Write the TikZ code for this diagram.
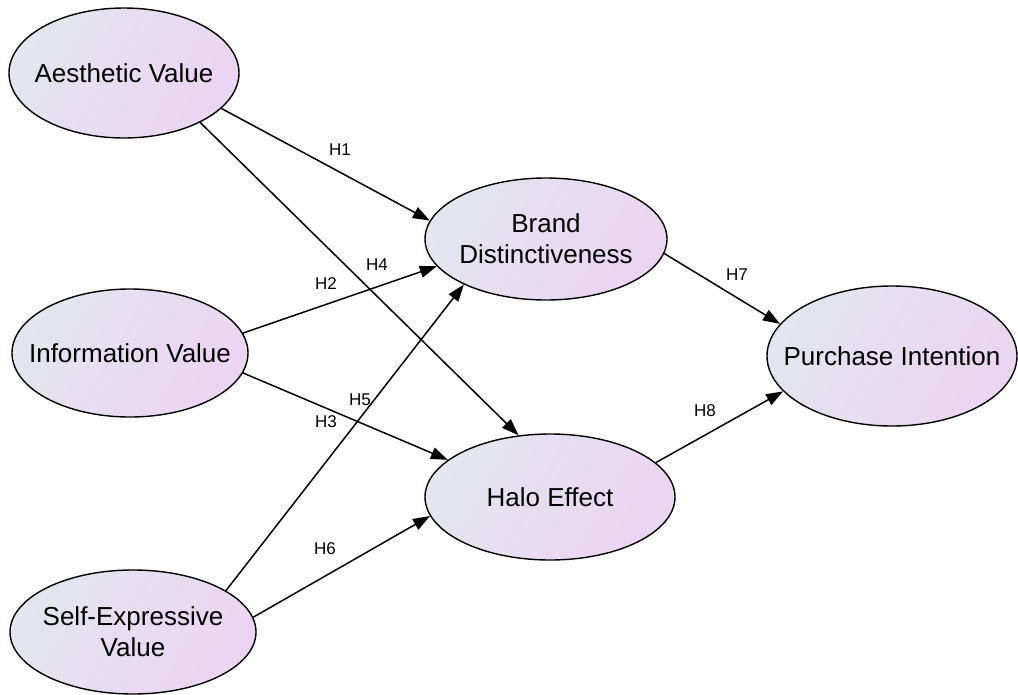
\documentclass[tikz,border=0pt]{standalone}
\usepackage{fontspec}
\setmainfont{Liberation Sans}
\usetikzlibrary{shapes.geometric,arrows.meta}
\definecolor{gleft}{HTML}{E2E6EE}
\definecolor{gright}{HTML}{ECD4F3}
\tikzset{
  construct/.style={ellipse, draw=black, line width=1.4pt, left color=gleft, right color=gright,
    shading angle=60, inner sep=0pt},
  ctext/.style={align=center, font=\fontsize{26}{31}\selectfont, text=black, inner sep=0pt},
  hlabel/.style={font=\fontsize{17}{20}\selectfont, text=black, inner sep=0pt},
  path/.style={line width=1.5pt, draw=black, -{Triangle[length=17pt,width=12pt]}}
}
\begin{document}
\begin{tikzpicture}[x=1pt,y=-1pt]
\useasboundingbox[fill=white] (0,0) rectangle (1018,694);
\node[construct, minimum width=230pt, minimum height=130pt,
  label={[ctext]center:Aesthetic Value}] (aes) at (124,73) {};
\node[construct, minimum width=236pt, minimum height=128pt,
  label={[ctext]center:Information Value}] (info) at (130,353) {};
\node[construct, minimum width=246pt, minimum height=124pt,
  label={[ctext]center:Self-Expressive\\Value}] (self) at (133,632) {};
\node[construct, minimum width=242pt, minimum height=122pt,
  label={[ctext]center:Brand\\Distinctiveness}] (brand) at (546,239) {};
\node[construct, minimum width=250pt, minimum height=126pt,
  label={[ctext]center:Halo Effect}] (halo) at (550,497) {};
\node[construct, minimum width=250pt, minimum height=140pt,
  label={[ctext]center:Purchase Intention}] (pi) at (892,356) {};

\draw[path] (aes.-20.6) -- (brand.171.8);
\draw[path] (aes.-33.4) -- (halo.117.3);
\draw[path] (info.10.3) -- (brand.194);
\draw[path] (info.-10.2) -- (halo.160.6);
\draw[path] (self.24.8) -- (brand.209.7);
\draw[path] (self.7.9) -- (halo.189.8);
\draw[path] (brand.-7.6) -- (pi.164);
\draw[path] (halo.18.4) -- (pi.198.4);

\node[hlabel] (h1) at (340,150) {H1};
\node[hlabel] (h2) at (326,284) {H2};
\node[hlabel] (h3) at (326,422) {H3};
\node[hlabel] (h4) at (377,265) {H4};
\node[hlabel] (h5) at (360,400) {H5};
\node[hlabel] (h6) at (325,549) {H6};
\node[hlabel] (h7) at (737,275) {H7};
\node[hlabel] (h8) at (705,411) {H8};
\end{tikzpicture}
\end{document}
